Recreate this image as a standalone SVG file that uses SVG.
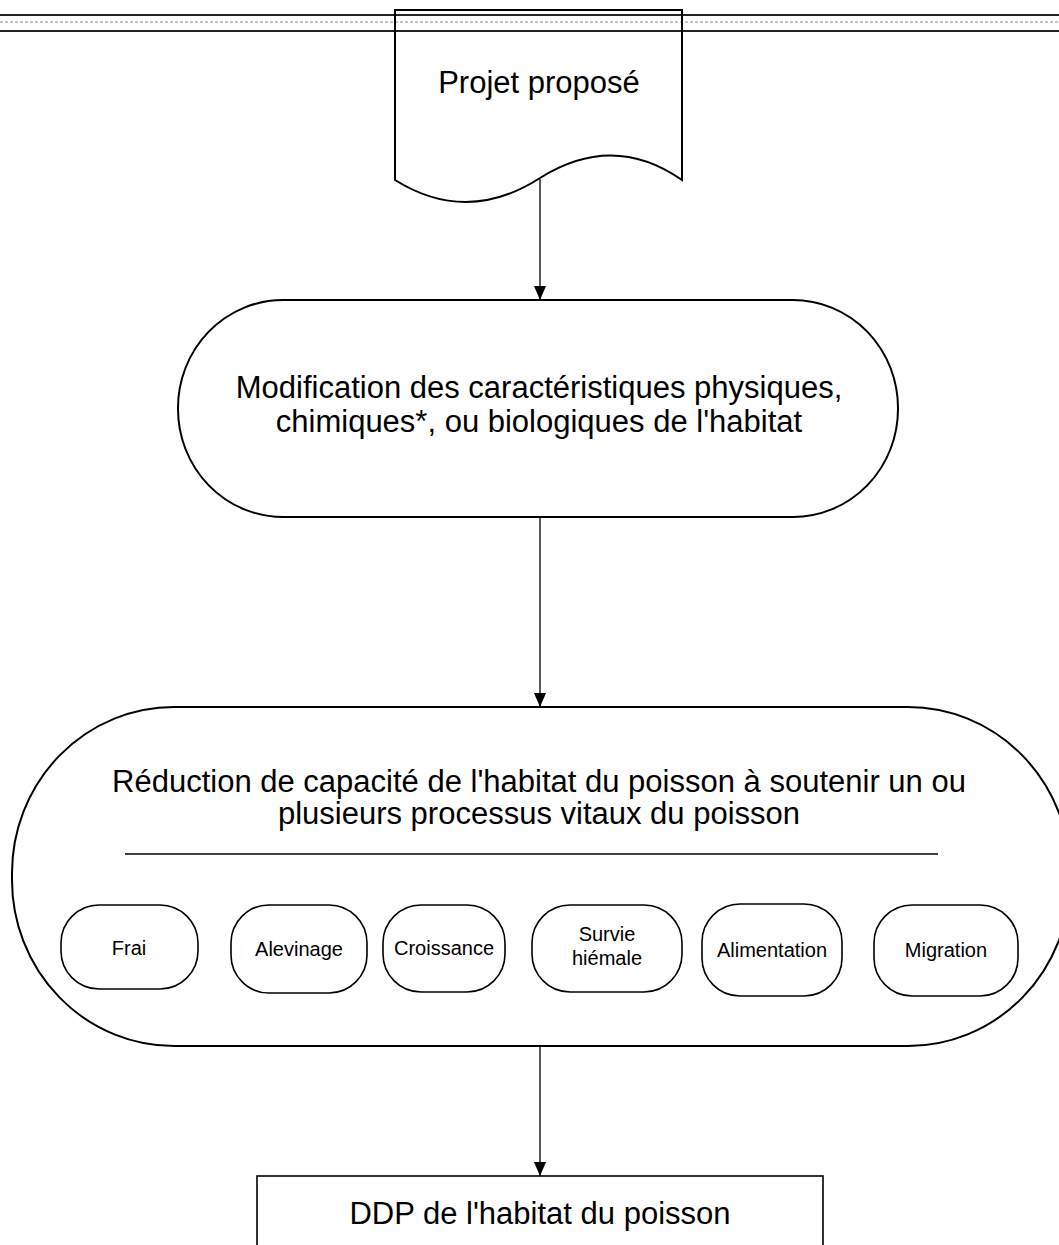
<svg xmlns="http://www.w3.org/2000/svg" width="1059" height="1245" viewBox="0 0 1059 1245">
<defs>
<marker id="arr" viewBox="0 0 14 12" refX="14" refY="6" markerWidth="14" markerHeight="12" markerUnits="userSpaceOnUse" orient="auto">
<path d="M0,0 L14,6 L0,12 Z" fill="#000"/>
</marker>
<style>
.big{fill:#fff;stroke:#000;stroke-width:2}
.small{fill:#fff;stroke:#000;stroke-width:1.6}
.t{font-family:"Liberation Sans",Arial,sans-serif;fill:#000;text-anchor:middle}
.tl{font-size:31px}
.ts{font-size:20px}
.conn{stroke:#000;stroke-width:1.3;fill:none;marker-end:url(#arr)}
.rule{stroke:#222;stroke-width:2}
</style>
</defs>
<rect width="1059" height="1245" fill="#fff"/>
<g id="page-border">
<line class="rule" x1="0" y1="15" x2="1059" y2="15"/>
<line x1="0" y1="22" x2="1059" y2="22" stroke="#888" stroke-width="1" stroke-dasharray="3 2"/>
<line class="rule" x1="0" y1="31" x2="1059" y2="31"/>
</g>
<g id="connectors">
<line class="conn" x1="540" y1="179" x2="540" y2="300"/>
<line class="conn" x1="540" y1="517" x2="540" y2="707"/>
<line class="conn" x1="540" y1="1046" x2="540" y2="1176"/>
</g>
<g id="projet">
<path d="M395,10 H682 V180 Q613,132 540,178 Q467,225 395,180 Z" fill="none" stroke="#000" stroke-width="2"/>
<text class="t tl" x="539" y="93">Projet proposé</text>
</g>
<g id="modification">
<rect class="big" x="178" y="300" width="720" height="217" rx="105" ry="108"/>
<text class="t tl" x="539" y="398">Modification des caractéristiques physiques,</text>
<text class="t tl" x="539" y="432">chimiques*, ou biologiques de l'habitat</text>
</g>
<g id="reduction">
<rect class="big" x="12" y="707" width="1058" height="339" rx="162" ry="166"/>
<text class="t tl" x="539" y="792">Réduction de capacité de l'habitat du poisson à soutenir un ou</text>
<text class="t tl" x="539" y="824">plusieurs processus vitaux du poisson</text>
<line x1="125" y1="854" x2="938" y2="854" stroke="#000" stroke-width="1.6"/>
</g>
<g id="frai">
<rect class="small" x="61" y="905" width="137" height="84" rx="38" ry="38"/>
<text class="t ts" x="129" y="955">Frai</text>
</g>
<g id="alevinage">
<rect class="small" x="231" y="905" width="136" height="88" rx="38" ry="38"/>
<text class="t ts" x="299" y="956">Alevinage</text>
</g>
<g id="croissance">
<rect class="small" x="383" y="905" width="122" height="87" rx="38" ry="38"/>
<text class="t ts" x="444" y="955">Croissance</text>
</g>
<g id="survie">
<rect class="small" x="532" y="905" width="150" height="87" rx="38" ry="38"/>
<text class="t ts" x="607" y="941">Survie</text>
<text class="t ts" x="607" y="965">hiémale</text>
</g>
<g id="alimentation">
<rect class="small" x="702" y="904" width="140" height="92" rx="38" ry="38"/>
<text class="t ts" x="772" y="957">Alimentation</text>
</g>
<g id="migration">
<rect class="small" x="874" y="905" width="144" height="91" rx="38" ry="38"/>
<text class="t ts" x="946" y="957">Migration</text>
</g>
<g id="ddp">
<rect x="257" y="1176" width="566" height="100" fill="#fff" stroke="#000" stroke-width="1.6"/>
<text class="t tl" x="540" y="1224">DDP de l'habitat du poisson</text>
</g>
</svg>
